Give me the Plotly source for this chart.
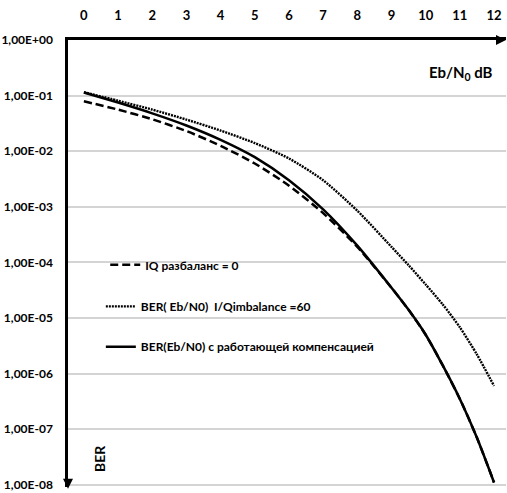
import plotly.graph_objects as go

# Eb/N0, dB
ebn0 = [0, 1, 2, 3, 4, 5, 6, 7, 8, 9, 9.5, 10, 10.5, 11, 11.5, 12]

# BER, IQ imbalance = 0 (dashed)
ber_iq0 = [0.079, 0.056, 0.0375, 0.023, 0.0125, 0.006, 0.0024, 7.7e-4, 1.9e-4,
           3.5e-5, 1.4e-5, 5e-6, 1.4e-6, 3.5e-7, 7e-8, 1.1e-8]
# BER, I/Q imbalance = 60 (dotted)
ber_iq60 = [0.115, 0.081, 0.056, 0.037, 0.0235, 0.014, 0.0074, 0.003, 8.5e-4,
            1.9e-4, 8.9e-5, 4.0e-5, 1.75e-5, 6.8e-6, 2.2e-6, 6e-7]
# BER with working compensation (solid)
ber_comp = [0.114, 0.075, 0.048, 0.029, 0.016, 0.0078, 0.003, 9e-4, 2.0e-4,
            3.5e-5, 1.4e-5, 5e-6, 1.4e-6, 3.5e-7, 7e-8, 1.1e-8]

xtick_vals = [0, 1, 2, 3, 4, 5, 6, 7, 8, 9, 10, 11, 12]

names = ["IQ разбаланс = 0",
         "BER( Eb/N0)  I/Qimbalance =60",
         "BER(Eb/N0) с работающей компенсацией"]

ytick_vals = [1, 1e-1, 1e-2, 1e-3, 1e-4, 1e-5, 1e-6, 1e-7, 1e-8]
ytick_text = ["1,00E+00", "1,00E-01", "1,00E-02", "1,00E-03", "1,00E-04",
              "1,00E-05", "1,00E-06", "1,00E-07", "1,00E-08"]

FONT = "Lato, Roboto, Liberation Sans, sans-serif"

fig = go.Figure()
fig.add_trace(go.Scatter(x=ebn0, y=ber_iq0, mode="lines", name=names[0], showlegend=True,
                         line=dict(color="black", width=2.5, dash="8px,4px", shape="spline", smoothing=0.7),
                         legend="legend"))
fig.add_trace(go.Scatter(x=ebn0, y=ber_iq60, mode="lines", name=names[1], showlegend=True,
                         line=dict(color="black", width=2.4, dash="2px,1px", shape="spline", smoothing=0.7),
                         legend="legend2"))
fig.add_trace(go.Scatter(x=ebn0, y=ber_comp, mode="lines", name=names[2], showlegend=True,
                         line=dict(color="black", width=2.5, shape="spline", smoothing=0.7),
                         legend="legend3"))

legfont = dict(family=FONT, size=12, color="black", weight="bold")
common_leg = dict(xanchor="left", yanchor="middle", bgcolor="rgba(0,0,0,0)",
                  font=legfont, itemwidth=30, borderwidth=0)

fig.update_layout(
    width=507, height=493,
    showlegend=True,
    margin=dict(l=65, r=1, t=40, b=5),
    paper_bgcolor="white", plot_bgcolor="white",
    legend=dict(x=0.085, y=0.497, **common_leg),
    legend2=dict(x=0.075, y=0.404, **common_leg),
    legend3=dict(x=0.075, y=0.314, **common_leg),
    xaxis=dict(
        side="top", range=[-0.465, 12.35],
        tickvals=xtick_vals, ticktext=[str(v) for v in xtick_vals],
        showgrid=False, zeroline=False,
        showline=True, linecolor="black", linewidth=2.5,
        ticks="", ticklabelstandoff=12,
        tickfont=dict(family=FONT, size=13, color="black", weight="bold"),
    ),
    yaxis=dict(
        type="log", range=[-8.04, 0],
        tickvals=ytick_vals, ticktext=ytick_text,
        showgrid=True, gridcolor="#d4d4d4", gridwidth=1.5,
        zeroline=False,
        showline=True, linecolor="black", linewidth=2.5,
        ticks="", ticklabelstandoff=10,
        tickfont=dict(family=FONT, size=12, color="black", weight="bold"),
    ),
    annotations=[
        dict(text="Eb/N<sub>0</sub> dB", xref="paper", yref="paper", x=0.975, y=0.926,
             xanchor="right", yanchor="middle", showarrow=False,
             font=dict(family=FONT, size=15, color="black", weight="bold")),
        dict(text="BER", xref="paper", yref="paper", x=0.073, y=0.065,
             xanchor="center", yanchor="middle", showarrow=False, textangle=-90,
             font=dict(family=FONT, size=14, color="black", weight="bold")),
        dict(text="", xref="paper", yref="paper", x=1.0, y=1.0, ax=-10, ay=0,
             showarrow=True, arrowhead=2, arrowsize=1, arrowwidth=2, arrowcolor="black"),
        dict(text="", xref="paper", yref="paper", x=0.0, y=-0.004, ax=0, ay=-10,
             showarrow=True, arrowhead=2, arrowsize=1, arrowwidth=2, arrowcolor="black"),
    ],
)

fig.write_html("out.html")
